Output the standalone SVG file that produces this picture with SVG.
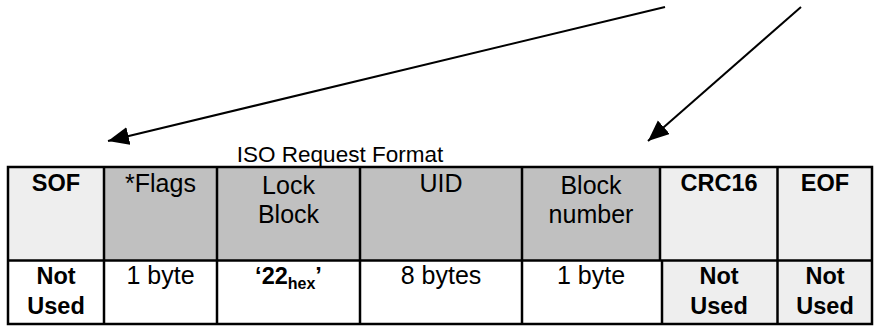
<svg xmlns="http://www.w3.org/2000/svg" width="875" height="326" viewBox="0 0 875 326">
<style>
.t{font-family:"Liberation Sans",Arial,sans-serif;font-size:25px;fill:#000;text-anchor:middle}
.b{font-family:"Liberation Sans",Arial,sans-serif;font-size:23.5px;font-weight:bold;fill:#000;text-anchor:middle}
.title{font-family:"Liberation Sans",Arial,sans-serif;font-size:22.5px;fill:#000;text-anchor:middle}
.dark{fill:#c0c0c0}
.light{fill:#eeeeee}
.white{fill:#ffffff}
.grid{stroke:#000;stroke-width:2.5;fill:none}
.conn{stroke:#000;stroke-width:2;fill:none}
</style>
<defs>
<marker id="ah" markerUnits="userSpaceOnUse" markerWidth="24" markerHeight="20" refX="21" refY="9" orient="auto">
<path d="M0,0 L21,9 L0,18 z" fill="#000"/>
</marker>
</defs>
<rect x="0" y="0" width="875" height="326" fill="#fff"/>
<g id="connectors">
<line class="conn" x1="665" y1="7" x2="108" y2="141" marker-end="url(#ah)"/>
<line class="conn" x1="801" y1="7" x2="648" y2="141" marker-end="url(#ah)"/>
</g>
<g id="title">
<text class="title" x="340" y="162">ISO Request Format</text>
</g>
<g id="sof">
<rect class="light" x="8" y="167" width="96" height="93.5"/>
<rect class="white" x="8" y="260.5" width="96" height="63.5"/>
<text class="b" x="56" y="191">SOF</text>
<text class="b" x="56" y="284">Not</text>
<text class="b" x="56" y="314">Used</text>
</g>
<g id="flags">
<rect class="dark" x="104" y="167" width="113" height="93.5"/>
<rect class="white" x="104" y="260.5" width="113" height="63.5"/>
<text class="t" x="160.5" y="192">*Flags</text>
<text class="t" x="160.5" y="284">1 byte</text>
</g>
<g id="lockblock">
<rect class="dark" x="217" y="167" width="143" height="93.5"/>
<rect class="white" x="217" y="260.5" width="143" height="63.5"/>
<text class="t" x="288.5" y="194">Lock</text>
<text class="t" x="288.5" y="223">Block</text>
<text class="b" x="288.5" y="284">‘22<tspan font-size="16" dy="5">hex</tspan><tspan dy="-5">’</tspan></text>
</g>
<g id="uid">
<rect class="dark" x="360" y="167" width="162" height="93.5"/>
<rect class="white" x="360" y="260.5" width="162" height="63.5"/>
<text class="t" x="441" y="192">UID</text>
<text class="t" x="441" y="284">8 bytes</text>
</g>
<g id="blocknumber">
<rect class="dark" x="522" y="167" width="138" height="93.5"/>
<rect class="white" x="522" y="260.5" width="140" height="63.5"/>
<text class="t" x="591" y="194">Block</text>
<text class="t" x="591" y="223">number</text>
<text class="t" x="591" y="284">1 byte</text>
</g>
<g id="crc16">
<rect class="light" x="660" y="167" width="117.5" height="93.5"/>
<rect class="light" x="662" y="260.5" width="115.5" height="63.5"/>
<text class="b" x="719" y="191">CRC16</text>
<text class="b" x="719" y="284">Not</text>
<text class="b" x="719" y="314">Used</text>
</g>
<g id="eof">
<rect class="light" x="777.5" y="167" width="94.5" height="93.5"/>
<rect class="light" x="777.5" y="260.5" width="94.5" height="63.5"/>
<text class="b" x="825" y="191">EOF</text>
<text class="b" x="825" y="284">Not</text>
<text class="b" x="825" y="314">Used</text>
</g>
<g id="grid">
<rect class="grid" x="8" y="167" width="864" height="157"/>
<line class="grid" x1="8" y1="260.5" x2="872" y2="260.5"/>
<line class="grid" x1="104" y1="167" x2="104" y2="324"/>
<line class="grid" x1="217" y1="167" x2="217" y2="324"/>
<line class="grid" x1="360" y1="167" x2="360" y2="324"/>
<line class="grid" x1="522" y1="167" x2="522" y2="324"/>
<line class="grid" x1="660" y1="167" x2="660" y2="260.5"/>
<line class="grid" x1="662" y1="260.5" x2="662" y2="324"/>
<line class="grid" x1="777.5" y1="167" x2="777.5" y2="324"/>
</g>
</svg>
